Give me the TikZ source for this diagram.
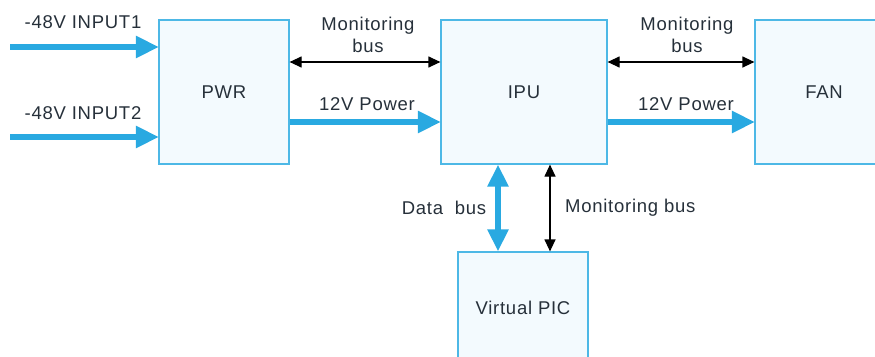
\documentclass[tikz,border=0pt]{standalone}
\usepackage{fontspec}
\setmainfont[LetterSpace=4]{Liberation Sans}
\usetikzlibrary{arrows.meta}
\definecolor{boxedge}{HTML}{4DB8E6}
\definecolor{boxfill}{HTML}{F3FAFE}
\definecolor{powerblue}{HTML}{29A9E1}
\definecolor{inktext}{HTML}{26303A}
\tikzset{
  unit/.style={draw=boxedge, fill=boxfill, line width=1.2pt, text=inktext,
    inner sep=0pt, font=\fontsize{18.5}{22}\selectfont},
  lbl/.style={text=inktext, inner sep=0pt, align=center,
    font=\fontsize{18.5}{22}\selectfont},
  power/.style={draw=powerblue, line width=5.5pt,
    -{Triangle[length=23pt,width=21pt]}, shorten >=-0.5pt},
  datalink/.style={draw=powerblue, line width=5.5pt,
    {Triangle[length=22pt,width=20pt]}-{Triangle[length=22pt,width=20pt]}},
  monlink/.style={draw=black, line width=1.2pt,
    {Triangle[length=12pt,width=11pt]}-{Triangle[length=12pt,width=11pt]}},
}
\begin{document}
\begin{tikzpicture}[x=1pt,y=-1pt]
  \useasboundingbox (0,0) rectangle (875,356);
  \clip (0,0) rectangle (875,356);

  % functional blocks
  \node[unit, minimum width=130pt, minimum height=144pt] (pwr) at (224,92) {PWR};
  \node[unit, minimum width=166pt, minimum height=144pt] (ipu) at (524,92) {IPU};
  \node[unit, minimum width=138pt, minimum height=144pt] (fan) at (824,92) {FAN};
  \node[unit, minimum width=130pt, minimum height=112pt] (pic) at (523,308) {Virtual PIC};

  % -48V feeds
  \coordinate (in1) at (10,47);
  \coordinate (in2) at (10,137);
  \draw[power] (in1) -- (pwr.west |- in1);
  \draw[power] (in2) -- (pwr.west |- in2);
  \node[lbl] (l1) at (83,22) {-48V INPUT1};
  \node[lbl] (l2) at (83,113) {-48V INPUT2};

  % PWR <-> IPU
  \coordinate (m1) at (0,62);
  \coordinate (p1) at (0,122);
  \draw[monlink] (pwr.east |- m1) -- (ipu.west |- m1);
  \draw[power] (pwr.east |- p1) -- (ipu.west |- p1);
  \node[lbl] (lm1) at (368,35) {Monitoring\\bus};
  \node[lbl] (lp1) at (367,104) {12V Power};

  % IPU <-> FAN
  \draw[monlink] (ipu.east |- m1) -- (fan.west |- m1);
  \draw[power] (ipu.east |- p1) -- (fan.west |- p1);
  \node[lbl] (lm2) at (687,35) {Monitoring\\bus};
  \node[lbl] (lp2) at (686,104) {12V Power};

  % IPU <-> Virtual PIC
  \coordinate (d) at (498,0);
  \coordinate (m) at (550,0);
  \draw[datalink] (ipu.south -| d) -- (pic.north -| d);
  \draw[monlink] (ipu.south -| m) -- (pic.north -| m);
  \node[lbl] (ld) at (444,208) {Data\ \ bus};
  \node[lbl, anchor=west] (lm) at (565,208) {Monitoring bus};
\end{tikzpicture}
\end{document}
